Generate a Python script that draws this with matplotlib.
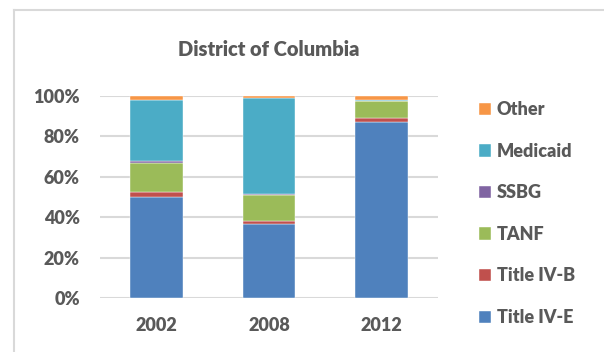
import matplotlib
matplotlib.use("Agg")
import matplotlib.pyplot as plt
from matplotlib.ticker import FuncFormatter

years = ["2002", "2008", "2012"]
series_names = ["Title IV-E", "Title IV-B", "TANF", "SSBG", "Medicaid", "Other"]
title_iv_e = [50.0, 36.5, 87.3]
title_iv_b = [2.3, 1.7, 2.0]
tanf = [14.6, 12.8, 8.1]
ssbg = [0.7, 0.6, 0.1]
medicaid = [30.4, 47.4, 0.4]
other = [2.0, 1.0, 2.1]
yticks = [0, 20, 40, 60, 80, 100]

colors = ["#4F81BD", "#C0504D", "#9BBB59", "#8064A2", "#4BACC6", "#F79646"]
text_color = "#595959"
grid_color = "#D9D9D9"
fs = 13
weight = "heavy"

plt.rcParams["font.family"] = ["Lato", "DejaVu Sans"]
plt.rcParams["font.weight"] = weight

fig = plt.figure(figsize=(6.04, 3.52), dpi=100)
ax = fig.add_axes([100 / 604, 1 - 298 / 352, 338 / 604, 202 / 352])

values = [title_iv_e, title_iv_b, tanf, ssbg, medicaid, other]
x = list(range(len(years)))
bottom = [0.0] * len(years)
handles = []
for name, vals, col in zip(series_names, values, colors):
    b = ax.bar(x, vals, bottom=bottom, width=0.47, color=col, label=name,
               edgecolor="white", linewidth=0.3, zorder=3)
    handles.append(b)
    bottom = [bt + v for bt, v in zip(bottom, vals)]

ax.set_xlim(-0.5, len(years) - 0.5)
ax.set_ylim(0, 100)
ax.set_yticks(yticks)
ax.yaxis.set_major_formatter(FuncFormatter(lambda v, p: f"{int(v)}%"))
ax.set_xticks(x)
ax.set_xticklabels(years)
ax.grid(axis="y", color=grid_color, linewidth=1.5, zorder=0)
ax.set_axisbelow(True)
for s in ax.spines.values():
    s.set_visible(False)
ax.tick_params(axis="both", length=0, labelsize=fs, colors=text_color, labelcolor=text_color)
ax.tick_params(axis="y", pad=14.5)
ax.tick_params(axis="x", pad=14)
for lbl in ax.get_xticklabels() + ax.get_yticklabels():
    lbl.set_fontweight(weight)

ax.set_title("District of Columbia", fontsize=14.5, fontweight=weight,
             color=text_color, pad=29)

# Legend listed top-down in reverse stacking order
leg = fig.legend(handles[::-1], series_names[::-1], loc="upper left",
                 bbox_to_anchor=(472 / 604, 1 - 94 / 352), frameon=False,
                 handlelength=0.66, handleheight=0.66, handletextpad=0.3,
                 labelspacing=1.36, borderaxespad=0,
                 prop={"weight": weight, "size": fs})
for t in leg.get_texts():
    t.set_color(text_color)

# Light chart border on the left and top
fig.add_artist(plt.Line2D([13.5 / 604, 13.5 / 604], [0, 1 - 10 / 352],
                          transform=fig.transFigure, color=grid_color, linewidth=1.5))
fig.add_artist(plt.Line2D([13.5 / 604, 1], [1 - 10 / 352, 1 - 10 / 352],
                          transform=fig.transFigure, color=grid_color, linewidth=1.5))

fig.savefig("out.png", dpi=100, facecolor="white")
